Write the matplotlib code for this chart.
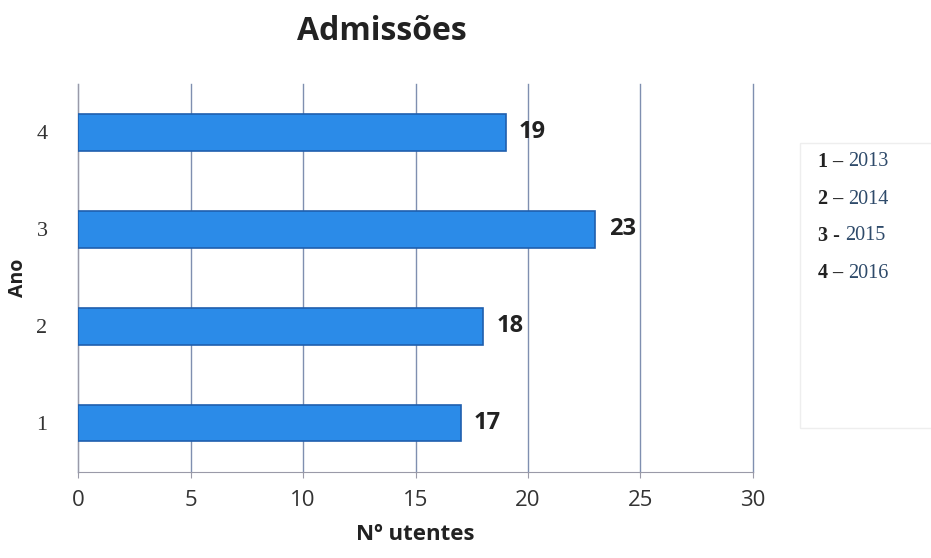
import matplotlib
matplotlib.use("Agg")
import matplotlib.pyplot as plt
from matplotlib.patches import Rectangle

anos = [1, 2, 3, 4]
utentes = [17, 18, 23, 19]
legenda = [("1 \u2013 ", "2013"), ("2 \u2013 ", "2014"), ("3 - ", "2015"), ("4 \u2013 ", "2016")]
xticks = [0, 5, 10, 15, 20, 25, 30]

sans = ["Open Sans", "DejaVu Sans"]
serif = ["Liberation Serif", "DejaVu Serif"]

fig = plt.figure(figsize=(9.31, 5.58), dpi=100)
ax = fig.add_axes([0.0838, 0.155, 0.725, 0.695])

ax.barh(anos, utentes, height=0.38, color="#2b8be8", edgecolor="#1f5fae", linewidth=1.2, zorder=3)
for a, u in zip(anos, utentes):
    ax.text(u + 0.6, a, str(u), va="center", ha="left", fontsize=17, fontweight="bold",
            family=sans, color="#222222")

ax.set_xlim(0, 30)
ax.set_ylim(0.5, 4.5)
ax.set_xticks(xticks)
ax.set_yticks(anos)
ax.grid(axis="x", color="#7f8fb0", linewidth=1.0, zorder=0)
for g in ax.get_xgridlines():
    g.set_clip_on(False)
for s in ["top", "right"]:
    ax.spines[s].set_visible(False)
ax.spines["left"].set_color("#9a9aa8")
ax.spines["bottom"].set_color("#9a9aa8")
ax.tick_params(axis="x", length=4, color="#9a9aa8", labelsize=16, labelcolor="#333333", pad=9)
ax.tick_params(axis="y", length=0, labelsize=16, labelcolor="#333333", pad=22)
for t in ax.get_xticklabels():
    t.set_family(sans)
for t in ax.get_yticklabels():
    t.set_family(serif)

ax.set_xlabel("N\u00ba utentes", fontsize=16, fontweight="bold", family=sans, color="#222222", labelpad=10)
ax.set_ylabel("Ano", fontsize=14, fontweight="bold", family=sans, color="#222222", labelpad=6)

fig.text(382 / 931, 1 - 32 / 558, "Admiss\u00f5es", ha="center", va="center", fontsize=23,
         fontweight="bold", family=sans, color="#222222")

# caixa da legenda
fig.patches.append(Rectangle((800 / 931, 1 - 428 / 558), 0.2, 285 / 558, transform=fig.transFigure,
                             facecolor="white", edgecolor="#eeeeee", linewidth=1.0))
for i, (num, ano) in enumerate(legenda):
    y = 1 - (162 + i * 37) / 558
    t = fig.text(818 / 931, y, num, ha="left", va="center", fontsize=14.5, fontweight="bold",
                 family=serif, color="#222222")
    fig.canvas.draw()
    bb = t.get_window_extent()
    fig.text(bb.x1 / fig.bbox.width, y, ano, ha="left", va="center", fontsize=14.5,
             family=serif, color="#2e4a6a")

fig.savefig("out.png", dpi=100)
